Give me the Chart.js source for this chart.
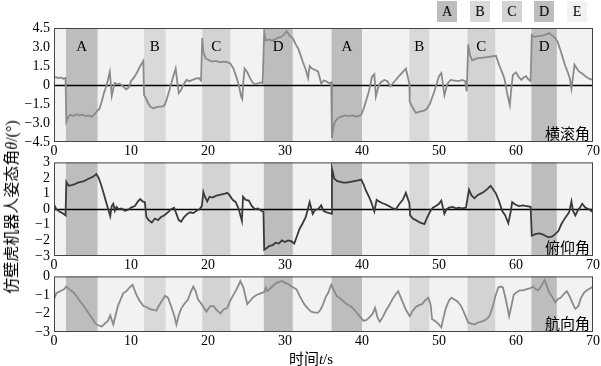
<!DOCTYPE html>
<html>
<head>
<meta charset="utf-8">
<script src="https://cdn.jsdelivr.net/npm/chart.js@4.4.1/dist/chart.umd.min.js"></script>
<style>
  html, body { margin:0; padding:0; background:#fff; }
  body { width:601px; height:366px; position:relative; overflow:hidden; }
  canvas { position:absolute; left:0; }
  .lg { position:absolute; top:1px; width:20px; height:21px; font:14px "Liberation Serif", "Times New Roman", "DejaVu Serif", serif; text-align:center; line-height:21px; color:#000; }
  #ytitle { position:absolute; left:10px; top:207px; transform:translate(-50%,-50%) rotate(-90deg); white-space:nowrap; font:16px "Noto Sans CJK SC", sans-serif; color:#000; }
  #xtitle { position:absolute; left:311px; top:357px; transform:translate(-50%,-50%); white-space:nowrap; font:15px "Noto Sans CJK SC", sans-serif; color:#000; }
  .it { font-family:"Liberation Serif", "Times New Roman", "DejaVu Serif", serif; font-style:italic; }
  .rm { font-family:"Liberation Serif", "Times New Roman", "DejaVu Serif", serif; }
</style>
</head>
<body>
<div id="legend"></div>
<canvas id="c1" width="601" height="160" style="top:0px"></canvas>
<canvas id="c2" width="601" height="124" style="top:150px"></canvas>
<canvas id="c3" width="601" height="86" style="top:264px"></canvas>
<div id="ytitle">仿壁虎机器人姿态角<span class="it">θ</span><span class="rm">/(°)</span></div>
<div id="xtitle">时间<span class="it">t</span><span class="rm">/s</span></div>
<script>
// ---- data ----
const bandStart = [1.55, 11.7, 19.25, 27.25, 36.05, 46.15, 53.7, 62.0];
const bandEnd   = [5.65, 14.5, 22.9, 31.0, 40.0, 48.75, 57.3, 65.3];
const bandType  = ['A','B','C','D','A','B','C','D'];
const legendKeys = ['A','B','C','D','E'];

const rollTime = [0,0.3,0.6,0.9,1.2,1.5,1.6,1.8,2.1,2.5,2.9,3.3,3.7,4.1,4.5,4.9,5.3,5.6,5.9,6.2,6.5,6.8,7.0,7.25,7.5,7.7,7.9,8.2,8.5,8.8,9.1,9.4,9.7,10.0,10.4,10.8,11.2,11.6,11.7,11.9,12.2,12.5,12.9,13.3,13.7,14.1,14.4,14.7,15.0,15.4,15.8,16.0,16.2,16.5,16.8,17.2,17.6,18.0,18.4,18.8,19.1,19.25,19.4,19.7,20.0,20.5,21.0,21.5,22.0,22.5,22.9,23.3,23.7,24.0,24.3,24.45,24.6,24.75,25.1,25.5,25.8,26.1,26.4,26.8,27.1,27.3,27.5,27.9,28.3,28.7,29.1,29.5,29.9,30.2,30.6,31.0,31.4,31.7,32.0,32.3,32.7,33.0,33.2,33.5,33.9,34.3,34.5,34.7,35.0,35.3,35.7,36.0,36.1,36.3,36.5,36.9,37.3,37.8,38.3,38.8,39.3,39.9,40.2,40.5,40.9,41.3,41.6,41.8,42.1,42.4,42.9,43.3,43.7,44.1,44.6,45.1,45.7,46.0,46.15,46.2,46.5,47.0,47.5,48.0,48.4,48.8,49.4,50.0,50.3,50.7,51.1,51.5,52.0,52.5,53.0,53.4,53.6,53.8,54.0,54.3,54.9,55.5,56.2,56.8,57.4,57.8,58.2,58.5,58.9,59.2,59.4,59.6,60.0,60.4,60.7,61.0,61.3,61.6,61.9,62.05,62.4,62.9,63.4,63.9,64.3,64.7,65.1,65.4,65.8,66.1,66.4,66.7,67.0,67.2,67.6,67.9,68.2,68.6,69.1,69.5,70];
const rollAngle = [0.65,0.6,0.55,0.6,0.5,0.55,-2.9,-2.6,-2.35,-2.45,-2.3,-2.4,-2.35,-2.45,-2.4,-2.5,-2.3,-2.05,-1.9,-1.3,-0.6,-0.1,0.4,1.05,-0.85,-0.3,0.15,0.05,0.1,0.0,-0.2,-0.35,-0.2,0.3,0.6,1.0,1.5,1.9,-0.8,-1.0,-1.4,-1.7,-1.85,-1.75,-1.7,-1.7,-1.55,-1.0,-0.4,0.5,1.3,0.3,-0.65,-0.4,0.0,0.4,0.3,0.4,0.5,0.55,0.35,3.7,2.6,2.1,2.0,1.85,1.9,1.8,1.85,1.8,1.7,1.3,0.6,0.0,-0.9,-1.1,0.3,1.3,1.0,0.5,0.2,0.05,0.1,0.2,0.15,4.2,3.5,3.6,3.5,3.6,3.75,3.8,4.0,4.25,3.9,3.7,3.2,2.9,2.4,1.85,1.2,0.55,1.5,1.3,1.2,1.05,0.6,0.1,0.35,0.3,0.15,0.2,-4.2,-3.3,-2.9,-2.6,-2.5,-2.4,-2.45,-2.4,-2.5,-2.35,-1.9,-1.3,-0.5,0.65,0.85,-0.9,-0.2,0.2,0.4,0.3,-0.1,0.2,0.55,0.9,1.3,0.5,0.1,-1.3,-1.7,-2.2,-2.1,-2.05,-1.9,-1.5,-0.5,0.7,0.95,-0.8,0.1,0.4,0.35,0.3,0.4,0.3,-0.5,3.2,2.4,1.95,2.1,2.15,2.2,2.25,2.3,1.6,1.0,0.5,-0.8,-1.6,-0.2,0.8,1.0,0.6,0.4,0.6,0.7,0.45,0.3,3.95,3.8,3.85,3.9,4.0,4.1,3.9,3.7,3.4,2.7,2.1,1.5,1.05,0.5,-0.3,1.6,1.3,1.05,0.9,0.65,0.5,0.4];

const pitchTime = [0,0.3,0.7,1.1,1.5,1.6,1.9,2.3,2.7,3.1,3.5,3.9,4.3,4.7,5.1,5.5,5.8,6.1,6.4,6.8,7.1,7.3,7.5,7.7,7.9,8.1,8.4,8.8,9.2,9.6,10.0,10.5,10.9,11.2,11.5,11.8,12.0,12.3,12.7,13.1,13.5,13.9,14.3,14.8,15.2,15.6,15.9,16.2,16.5,16.9,17.3,17.7,18.1,18.5,18.9,19.2,19.4,19.6,19.9,20.2,20.6,21.0,21.4,21.8,22.2,22.5,22.8,23.2,23.6,24.0,24.4,24.55,24.9,25.3,25.7,26.1,26.5,26.9,27.2,27.3,27.6,28.0,28.4,28.8,29.2,29.6,30.0,30.4,30.8,31.2,31.5,31.9,32.3,32.7,33.2,33.6,33.9,34.3,34.7,35.0,35.4,35.8,36.05,36.1,36.4,36.8,37.2,37.6,38.0,38.5,39.0,39.5,39.9,40.2,40.5,40.9,41.2,41.6,41.9,42.2,42.6,43.1,43.5,44.0,44.4,44.8,45.3,45.7,46.0,46.15,46.25,46.6,47.0,47.5,48.1,48.5,48.9,49.2,49.6,50.0,50.3,50.7,51.0,51.3,51.8,52.2,52.6,53.0,53.5,53.9,54.2,54.6,55.0,55.4,55.8,56.3,56.7,57.0,57.4,57.8,58.2,58.6,59.0,59.3,59.5,59.9,60.4,60.9,61.4,61.9,62.05,62.5,63.0,63.4,63.8,64.2,64.7,65.1,65.5,65.9,66.2,66.6,66.9,67.2,67.4,67.7,68.0,68.3,68.6,69.0,69.5,70];
const pitchAngle = [0.3,0.0,-0.15,-0.25,-0.4,1.75,1.5,1.55,1.6,1.7,1.75,1.8,1.9,2.0,2.1,2.25,2.0,1.6,1.1,0.4,-0.1,-0.45,0.2,0.35,-0.1,0.15,0.0,0.05,-0.1,-0.05,0.1,0.2,0.5,0.65,0.5,0.45,-0.5,-0.7,-0.85,-0.6,-0.7,-0.5,-0.4,-0.2,0.0,0.1,-0.3,-0.7,-0.8,-0.5,-0.3,-0.2,-0.25,-0.1,0.0,0.2,1.1,0.8,0.5,0.8,0.75,0.85,0.9,0.95,1.0,1.05,0.9,0.6,0.45,0.0,-0.75,0.8,0.6,0.55,0.2,0.0,0.05,-0.1,-0.15,-2.6,-2.5,-2.35,-2.3,-2.15,-2.2,-2.0,-2.1,-2.0,-2.05,-2.2,-1.8,-1.25,-0.9,-0.5,0.45,-0.3,-0.05,0.0,0.25,-0.1,-0.2,-0.25,-0.3,2.6,1.95,1.8,1.75,1.7,1.7,1.75,1.8,1.85,1.9,1.6,1.2,0.8,0.45,-0.15,0.6,0.5,0.4,0.3,0.2,0.05,0.0,0.3,0.6,1.05,0.6,0.4,-0.4,-0.6,-0.7,-0.85,-0.95,-0.5,-0.1,0.1,0.2,0.35,0.55,-0.3,0.0,0.1,0.15,0.05,0.1,0.05,0.1,1.25,0.9,0.7,0.9,1.0,1.1,1.3,1.5,1.3,1.0,0.5,-0.1,-0.4,-0.9,-0.2,0.45,0.3,0.2,0.25,0.2,0.15,-1.7,-1.6,-1.55,-1.6,-1.7,-1.8,-1.75,-1.6,-1.4,-0.95,-0.7,-0.4,-0.2,0.5,-0.1,-0.4,-0.1,0.1,0.35,0.1,0.0,-0.2];

const yawTime = [0,0.3,0.8,1.3,1.6,2.0,2.5,2.9,3.3,3.7,4.2,4.6,5.0,5.4,5.8,6.2,6.6,7.0,7.3,7.7,8.0,8.3,8.7,9.0,9.4,9.8,10.2,10.7,11.1,11.6,12.0,12.4,12.9,13.3,13.6,13.9,14.2,14.4,14.8,15.2,15.6,15.9,16.2,16.5,16.9,17.4,17.8,18.1,18.4,18.7,19.0,19.4,19.8,20.3,20.7,21.2,21.6,22.0,22.5,22.9,23.3,23.7,24.0,24.2,24.6,25.1,25.5,25.8,26.3,26.9,27.3,27.5,27.7,28.2,28.6,28.9,29.3,29.6,30.0,30.4,30.7,31.1,31.5,31.9,32.5,33.0,33.4,33.9,34.3,34.6,34.9,35.3,35.6,36.0,36.4,36.7,37.2,37.6,38.0,38.5,39.0,39.3,39.8,40.2,40.6,41.0,41.4,41.7,42.0,42.3,42.7,43.1,43.6,44.0,44.4,44.7,45.0,45.3,45.7,46.2,46.6,47.0,47.4,47.8,48.2,48.6,48.9,49.1,49.6,49.9,50.3,50.6,50.9,51.3,51.6,52.0,52.4,52.8,53.1,53.5,53.8,54.2,54.6,55.0,55.4,55.8,56.2,56.6,57.0,57.3,57.7,58.0,58.3,58.6,58.9,59.1,59.4,59.7,60.1,60.5,60.9,61.3,61.8,62.2,62.6,62.9,63.3,63.7,64.0,64.3,64.7,65.1,65.5,65.8,66.2,66.6,67.0,67.4,67.7,68.1,68.4,68.8,69.2,69.6,70];
const yawAngle = [-1.25,-0.9,-0.8,-0.7,-0.55,-0.7,-0.85,-1.05,-1.3,-1.5,-1.8,-2.05,-2.3,-2.55,-2.65,-2.7,-2.55,-2.4,-2.1,-2.6,-2.1,-1.6,-1.2,-0.9,-0.8,-0.6,-0.45,-1.0,-1.3,-1.6,-1.65,-1.75,-1.8,-1.85,-1.6,-1.4,-1.2,-1.05,-1.15,-1.6,-2.1,-2.6,-2.1,-1.75,-1.5,-1.25,-0.8,-0.55,-0.8,-1.25,-1.4,-1.65,-1.9,-1.6,-1.6,-1.85,-2.0,-1.8,-1.7,-1.3,-1.0,-0.7,-0.45,-0.25,-0.6,-1.5,-1.3,-1.15,-1.0,-0.9,-0.85,-0.6,-0.8,-0.6,-0.45,-0.35,-0.3,-0.25,-0.35,-0.4,-0.5,-0.6,-0.7,-1.05,-1.5,-1.75,-1.9,-1.95,-1.95,-1.8,-1.55,-1.1,-0.9,-0.45,-0.8,-1.05,-1.2,-1.35,-1.5,-1.6,-1.8,-1.95,-2.2,-2.4,-2.35,-2.2,-2.0,-1.7,-2.2,-2.45,-2.2,-1.85,-1.5,-1.2,-0.95,-0.8,-1.1,-1.4,-1.8,-2.15,-1.85,-1.65,-1.55,-1.5,-1.3,-1.15,-1.5,-2.3,-2.45,-2.55,-2.75,-2.2,-1.7,-1.3,-1.15,-1.25,-1.35,-1.55,-1.8,-2.2,-2.5,-2.55,-2.6,-2.5,-2.45,-2.4,-2.3,-2.1,-1.6,-1.1,-0.6,-0.55,-0.6,-1.1,-1.7,-2.15,-1.6,-1.0,-0.85,-0.75,-0.75,-0.7,-0.65,-0.55,-0.7,-0.75,-0.5,-0.2,-0.5,-0.85,-1.1,-1.4,-1.2,-1.15,-0.95,-0.8,-1.1,-1.5,-1.75,-1.6,-1.2,-0.9,-0.75,-0.65,-0.55];

const rollTicks  = [-4.5, 4.5, 1.5];
const pitchTicks = [-3, 3, 1];
const yawTicks   = [-3, 0, 1];
const panelNames = ['横滚角', '俯仰角', '航向角'];

// ---- styles ----
const bandColor = { A:'#bdbdbd', B:'#d9d9d9', C:'#d3d3d3', D:'#bdbdbd', E:'#f2f2f2' };
const serif = '"Liberation Serif", "Times New Roman", "DejaVu Serif", serif';
const cjk = '"Noto Sans CJK SC", sans-serif';

// legend
const legendX = [437, 470, 502, 534, 567];
const lg = document.getElementById('legend');
legendKeys.forEach((k, i) => {
  const d = document.createElement('div');
  d.className = 'lg';
  d.style.left = legendX[i] + 'px';
  d.style.background = bandColor[k];
  d.textContent = k;
  lg.appendChild(d);
});

function fmt(decimals) {
  return v => {
    if (Math.abs(v) < 1e-9) return '0';
    const s = decimals ? v.toFixed(decimals) : String(v);
    return s.replace('-', '\u2212');
  };
}

function makePanel(id, times, values, ticks, decimals, lineColor, padTop, name, showLetters, nameOffset) {
  const pts = times.map((t, i) => ({ x: t, y: values[i] }));
  const panelPlugin = {
    id: 'panel_' + id,
    beforeDatasetsDraw(chart) {
      const { ctx, chartArea: a, scales: { x, y } } = chart;
      ctx.save();
      ctx.fillStyle = bandColor.E;
      ctx.fillRect(a.left, a.top, a.right - a.left, a.bottom - a.top);
      bandStart.forEach((s, i) => {
        const x0 = x.getPixelForValue(s), x1 = x.getPixelForValue(bandEnd[i]);
        ctx.fillStyle = bandColor[bandType[i]];
        ctx.fillRect(x0, a.top, x1 - x0, a.bottom - a.top);
      });
      if (showLetters) {
        ctx.fillStyle = '#000';
        ctx.font = '15px ' + serif;
        ctx.textAlign = 'center';
        ctx.textBaseline = 'middle';
        bandStart.forEach((s, i) => {
          const xc = (x.getPixelForValue(s) + x.getPixelForValue(bandEnd[i])) / 2;
          ctx.fillText(bandType[i], xc, a.top + 19);
        });
      }
      if (y.min < 0 && y.max > 0) {
        const y0 = Math.round(y.getPixelForValue(0)) + 0.5;
        ctx.strokeStyle = '#000';
        ctx.lineWidth = 1.5;
        ctx.beginPath();
        ctx.moveTo(a.left, y0);
        ctx.lineTo(a.right, y0);
        ctx.stroke();
      }
      ctx.restore();
    },
    afterDatasetsDraw(chart) {
      const { ctx, chartArea: a } = chart;
      ctx.save();
      ctx.strokeStyle = '#444';
      ctx.lineWidth = 1;
      ctx.strokeRect(a.left + 0.5, a.top + 0.5, a.right - a.left - 1, a.bottom - a.top - 1);
      ctx.fillStyle = '#000';
      ctx.font = '15px ' + cjk;
      ctx.textAlign = 'right';
      ctx.textBaseline = 'alphabetic';
      ctx.fillText(name, a.right - 3, a.bottom - nameOffset);
      ctx.restore();
    }
  };
  return new Chart(document.getElementById(id), {
    type: 'line',
    data: { datasets: [{ data: pts, borderColor: lineColor, borderWidth: 1.8, pointRadius: 0, tension: 0, fill: false }] },
    options: {
      responsive: false, animation: false, devicePixelRatio: 1,
      layout: { padding: { left: 0, right: 7, top: padTop, bottom: 0 } },
      plugins: { legend: { display: false }, tooltip: { enabled: false } },
      scales: {
        x: {
          type: 'linear', min: 0, max: 70,
          grid: { display: false, drawTicks: false }, border: { display: false },
          ticks: { stepSize: 10, padding: 1, autoSkip: false, color: '#000', font: { family: serif, size: 14 }, maxRotation: 0 },
          afterFit(s) { s.height = 18; }
        },
        y: {
          min: ticks[0], max: ticks[1],
          grid: { display: false, drawTicks: false }, border: { display: false },
          ticks: { stepSize: ticks[2], padding: 4, autoSkip: false, color: '#000', font: { family: serif, size: 14 }, callback: fmt(decimals) },
          afterFit(s) { s.width = 54; }
        }
      }
    },
    plugins: [panelPlugin]
  });
}

makePanel('c1', rollTime, rollAngle, rollTicks, 1, '#8a8a8a', 28, panelNames[0], true, 3);
makePanel('c2', pitchTime, pitchAngle, pitchTicks, 0, '#3a3a3a', 10, panelNames[1], false, 3);
makePanel('c3', yawTime, yawAngle, yawTicks, 0, '#8a8a8a', 8, panelNames[2], false, 3);
</script>
</body>
</html>
